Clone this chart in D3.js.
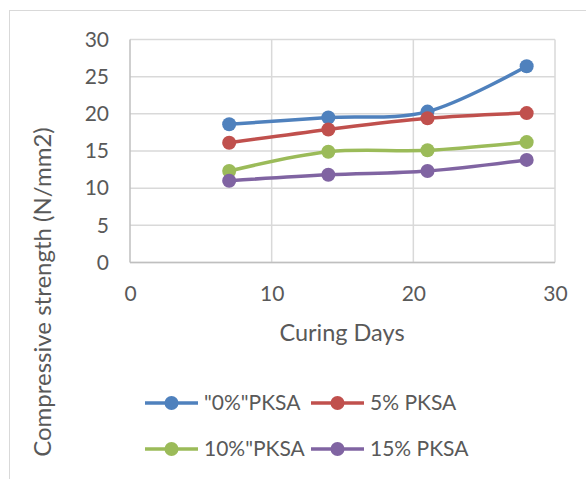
<!DOCTYPE html>
<html><head><meta charset="utf-8">
<script src="https://cdn.jsdelivr.net/npm/d3@7"></script>
<style>html,body{margin:0;padding:0;background:#fff;}svg{display:block;}</style>
</head><body>
<script>
const days = [7, 14, 21, 28];
const seriesNames = ['"0%"PKSA', '5% PKSA', '10%"PKSA', '15% PKSA'];
const pksa0 = [18.6, 19.5, 20.3, 26.4];
const pksa5 = [16.1, 17.9, 19.4, 20.1];
const pksa10 = [12.3, 14.9, 15.1, 16.2];
const pksa15 = [11.0, 11.8, 12.3, 13.8];
const colors = ["#4F81BD", "#C0504D", "#9BBB59", "#8064A2"];
const xTicks = [0, 10, 20, 30];
const yTicks = [0, 5, 10, 15, 20, 25, 30];

const W = 586, H = 479;
const font = "Lato, 'Open Sans', sans-serif";
const txt = "#595959";
const svg = d3.select("body").append("svg").attr("width", W).attr("height", H);

// outer chart border
svg.append("rect").attr("x", 9.5).attr("y", 10.5).attr("width", 600).attr("height", 500)
  .attr("fill", "none").attr("stroke", "#d9d9d9").attr("stroke-width", 1);

const x = d3.scaleLinear().domain([0, 30]).range([130, 555]);
const y = d3.scaleLinear().domain([0, 30]).range([262.5, 39.5]);

// gridlines
svg.append("g").selectAll("line").data(yTicks).join("line")
  .attr("x1", x(0)).attr("x2", x(30)).attr("y1", d => y(d)).attr("y2", d => y(d))
  .attr("stroke", "#d9d9d9").attr("stroke-width", 1.5);
svg.append("g").selectAll("line").data(xTicks).join("line")
  .attr("x1", d => x(d)).attr("x2", d => x(d)).attr("y1", y(0)).attr("y2", y(30))
  .attr("stroke", d => d === 0 ? "#bfbfbf" : "#d9d9d9").attr("stroke-width", 1.5);
svg.append("line").attr("x1", x(0)).attr("x2", x(30)).attr("y1", y(0)).attr("y2", y(0))
  .attr("stroke", "#bfbfbf").attr("stroke-width", 1.5);

// axes labels via d3 axes
const yAxis = svg.append("g").attr("transform", `translate(${x(0)},0)`)
  .call(d3.axisLeft(y).tickValues(yTicks).tickSize(0).tickPadding(21));
const xAxis = svg.append("g").attr("transform", `translate(0,${y(0)})`)
  .call(d3.axisBottom(x).tickValues(xTicks).tickSize(0).tickPadding(20));
[yAxis, xAxis].forEach(g => {
  g.select(".domain").remove();
  g.selectAll("text").attr("fill", txt).style("font-family", font).style("font-size", "21px");
});
xAxis.selectAll("text").attr("dy", "0.35em").attr("y", 31);

// axis titles
svg.append("text").attr("x", 342).attr("y", 333).attr("dy", "0.35em").attr("text-anchor", "middle")
  .attr("fill", txt).style("font-family", font).style("font-size", "23.5px").text("Curing Days");
svg.append("text").attr("transform", "translate(43,292) rotate(-90)").attr("dy", "0.35em")
  .attr("text-anchor", "middle").attr("fill", txt).style("font-family", font).style("font-size", "24px")
  .text("Compressive strength (N/mm2)");

const all = [pksa0, pksa5, pksa10, pksa15];
const line = d3.line().x((d, i) => x(days[i])).y(d => y(d)).curve(d3.curveCardinal.tension(0));
all.forEach((vals, k) => {
  svg.append("path").datum(vals).attr("d", line).attr("fill", "none")
    .attr("stroke", colors[k]).attr("stroke-width", 3.5).attr("stroke-linecap", "round");
});
all.forEach((vals, k) => {
  svg.append("g").selectAll("circle").data(vals).join("circle")
    .attr("cx", (d, i) => x(days[i])).attr("cy", d => y(d)).attr("r", 7).attr("fill", colors[k]);
});

// legend
const legPos = [[145, 403], [311, 403], [145, 449], [311, 449]];
seriesNames.forEach((name, k) => {
  const [lx, ly] = legPos[k];
  const g = svg.append("g");
  g.append("line").attr("x1", lx).attr("x2", lx + 53).attr("y1", ly).attr("y2", ly)
    .attr("stroke", colors[k]).attr("stroke-width", 3.5);
  g.append("circle").attr("cx", lx + 26.5).attr("cy", ly).attr("r", 7).attr("fill", colors[k]);
  g.append("text").attr("x", lx + 59).attr("y", ly).attr("dy", "0.35em").attr("fill", txt)
    .style("font-family", font).style("font-size", "21px").text(name);
});
</script>
</body></html>
